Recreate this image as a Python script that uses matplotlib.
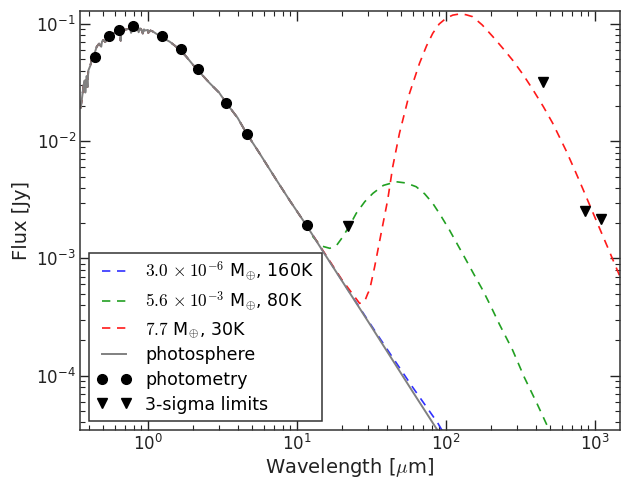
import matplotlib
matplotlib.use("Agg")
import matplotlib.pyplot as plt

plt.rcParams['mathtext.fontset'] = 'cm'
plt.rcParams['font.family'] = ['DejaVu Sans']

# Photosphere (stellar spectrum), wavelength [um] and flux [Jy]
phot_wav = [0.354, 0.362, 0.370, 0.376, 0.380, 0.388, 0.393, 0.398, 0.410, 0.420, 0.428,
            0.434, 0.440, 0.453, 0.470, 0.486, 0.492, 0.502, 0.517, 0.527, 0.550, 0.586,
            0.615, 0.640, 0.652, 0.656, 0.660, 0.690, 0.720, 0.760, 0.770, 0.800, 0.820,
            0.850, 0.866, 0.884, 0.900, 0.923, 0.940, 0.960, 1.000, 1.005, 1.040, 1.085,
            1.130, 1.200, 1.280, 1.400, 1.500, 1.640, 1.800, 2.010, 2.300, 2.600, 3.000,
            3.370, 4.000, 4.580, 5.500, 7.280, 9.000, 11.56, 15.0, 20.0, 26.0, 30.0,
            40.0, 60.0, 100.0]
phot_flux = [0.0192, 0.0240, 0.0300, 0.0330, 0.0260, 0.0360, 0.0290, 0.0400, 0.0440, 0.0500,
             0.0540, 0.0480, 0.0570, 0.0640, 0.0680, 0.0640, 0.0710, 0.0730, 0.0700, 0.0760,
             0.0790, 0.0833, 0.0860, 0.0870, 0.0860, 0.0720, 0.0875, 0.0890, 0.0901, 0.0910,
             0.0840, 0.0915, 0.0900, 0.0918, 0.0850, 0.0919, 0.0905, 0.0830, 0.0900, 0.0880,
             0.0890, 0.0840, 0.0880, 0.0859, 0.0830, 0.0790, 0.0750, 0.0706, 0.0660, 0.0600,
             0.0530, 0.0447, 0.0370, 0.0312, 0.0260, 0.0210, 0.0158, 0.0117, 0.0082, 0.00467,
             0.00308, 0.00192, 0.00114, 0.000646, 0.000385, 0.000290, 0.000163, 7.24e-05,
             2.64e-05]

# Disk + photosphere models beyond the region where they coincide with the photosphere
blue_wav = [11.56, 20.0, 30.0, 40.0, 60.0, 88.0, 100.0]
blue_flux = [0.00192, 0.000650, 0.000295, 0.000170, 7.90e-05, 3.95e-05, 2.98e-05]

green_wav = [11.56, 12.8, 14.5, 16.6, 18.5, 20.3, 22.5, 25.0, 28.5, 32.3, 38.0, 46.3, 54.0,
             63.1, 72.0, 81.5, 92.0, 105.4, 120.0, 136.4, 155.0, 176.4, 200.0, 228.0, 280.0,
             335.0, 410.0, 493.0, 560.0]
green_flux = [0.00192, 0.00153, 0.00128, 0.00122, 0.00130, 0.00153, 0.00190, 0.00243, 0.00305,
              0.00359, 0.00420, 0.00451, 0.00440, 0.00409, 0.00355, 0.00295, 0.00233,
              0.00175, 0.00130, 0.000969, 0.000720, 0.000537, 0.000390, 0.000275, 0.000165,
              9.70e-05, 5.70e-05, 3.43e-05, 2.00e-05]

red_wav = [11.56, 20.0, 26.3, 28.4, 29.9, 30.7, 33.2, 36.7, 40.6, 43.9, 48.7, 56.9, 66.4, 74.0,
           81.5, 90.0, 100.2, 111.0, 123.0, 136.0, 151.0, 175.0, 205.6, 240.0, 280.0, 330.0,
           381.0, 450.0, 519.0, 637.0, 730.0, 824.0, 940.0, 1066.0, 1220.0, 1378.0, 1600.0]
red_flux = [0.00192, 0.000660, 0.000414, 0.000428, 0.000504, 0.000537, 0.000849, 0.00164,
            0.00315, 0.00605, 0.01167, 0.0256, 0.0462, 0.0650, 0.0833, 0.100, 0.112, 0.119,
            0.1217, 0.1200, 0.1154, 0.0981, 0.0783, 0.0623, 0.0491, 0.0368, 0.0278, 0.0197,
            0.0143, 0.00839, 0.00569, 0.00398, 0.00268, 0.00184, 0.00123, 0.000851, 0.000543]

# Photometry
phot_pts_wav = [0.44, 0.55, 0.64, 0.79, 1.24, 1.66, 2.16, 3.35, 4.6, 11.6]
phot_pts_flux = [0.0523, 0.079, 0.089, 0.096, 0.079, 0.061, 0.041, 0.0212, 0.0115, 0.00193]

# 3-sigma upper limits
lim_wav = [22.0, 450.0, 850.0, 1100.0]
lim_flux = [0.00189, 0.032, 0.00252, 0.00216]

labels = [r'$3.0\,\times 10^{-6}$ M$_{\oplus}$, 160K',
          r'$5.6\,\times 10^{-3}$ M$_{\oplus}$, 80K',
          r'$7.7$ M$_{\oplus}$, 30K',
          'photosphere', 'photometry', '3-sigma limits']

fig = plt.figure(figsize=(6.27, 4.79), dpi=100)
ax = fig.add_axes([0.1276, 0.1023, 0.8612, 0.8747])

def full(wav, flux):
    w = [x for x in phot_wav if x < wav[0]] + list(wav)
    f = [y for x, y in zip(phot_wav, phot_flux) if x < wav[0]] + list(flux)
    return w, f

dash = (5, 4)
w, f = full(blue_wav, blue_flux)
ax.plot(w, f, color='#3030ff', lw=1.2, ls='--', dashes=dash, label=labels[0])
w, f = full(green_wav, green_flux)
ax.plot(w, f, color='#22a022', lw=1.2, ls='--', dashes=dash, label=labels[1])
w, f = full(red_wav, red_flux)
ax.plot(w, f, color='#ff1a1a', lw=1.2, ls='--', dashes=dash, label=labels[2])
ax.plot(phot_wav, phot_flux, color='0.5', lw=1.4, label=labels[3])
ax.plot(phot_pts_wav, phot_pts_flux, 'o', color='k', ms=7, label=labels[4])
ax.plot(lim_wav, lim_flux, 'v', color='k', ms=7, label=labels[5])

ax.set_xscale('log')
ax.set_yscale('log')
ax.set_xlim(0.35, 1470)
ax.set_ylim(3.44e-5, 0.129)

ax.tick_params(which='both', direction='in', top=True, right=True, colors='#222222',
               labelsize=12)
ax.tick_params(which='major', length=7, width=1, pad=3)
ax.tick_params(which='minor', length=3.5, width=0.8)
for s in ax.spines.values():
    s.set_color('#333333')
    s.set_linewidth(1.1)

ax.set_xlabel(r'Wavelength [$\mu$m]', fontsize=14, color='#222222', labelpad=1)
ax.set_ylabel('Flux [Jy]', fontsize=14, color='#222222')

leg = ax.legend(loc='lower left', numpoints=2, fancybox=False, fontsize=12.5,
                handlelength=2.0, borderpad=0.45, labelspacing=0.38,
                borderaxespad=0.5, framealpha=1)
leg.get_frame().set_edgecolor('#333333')
leg.get_frame().set_linewidth(1.1)

fig.savefig('out.png', dpi=100)
